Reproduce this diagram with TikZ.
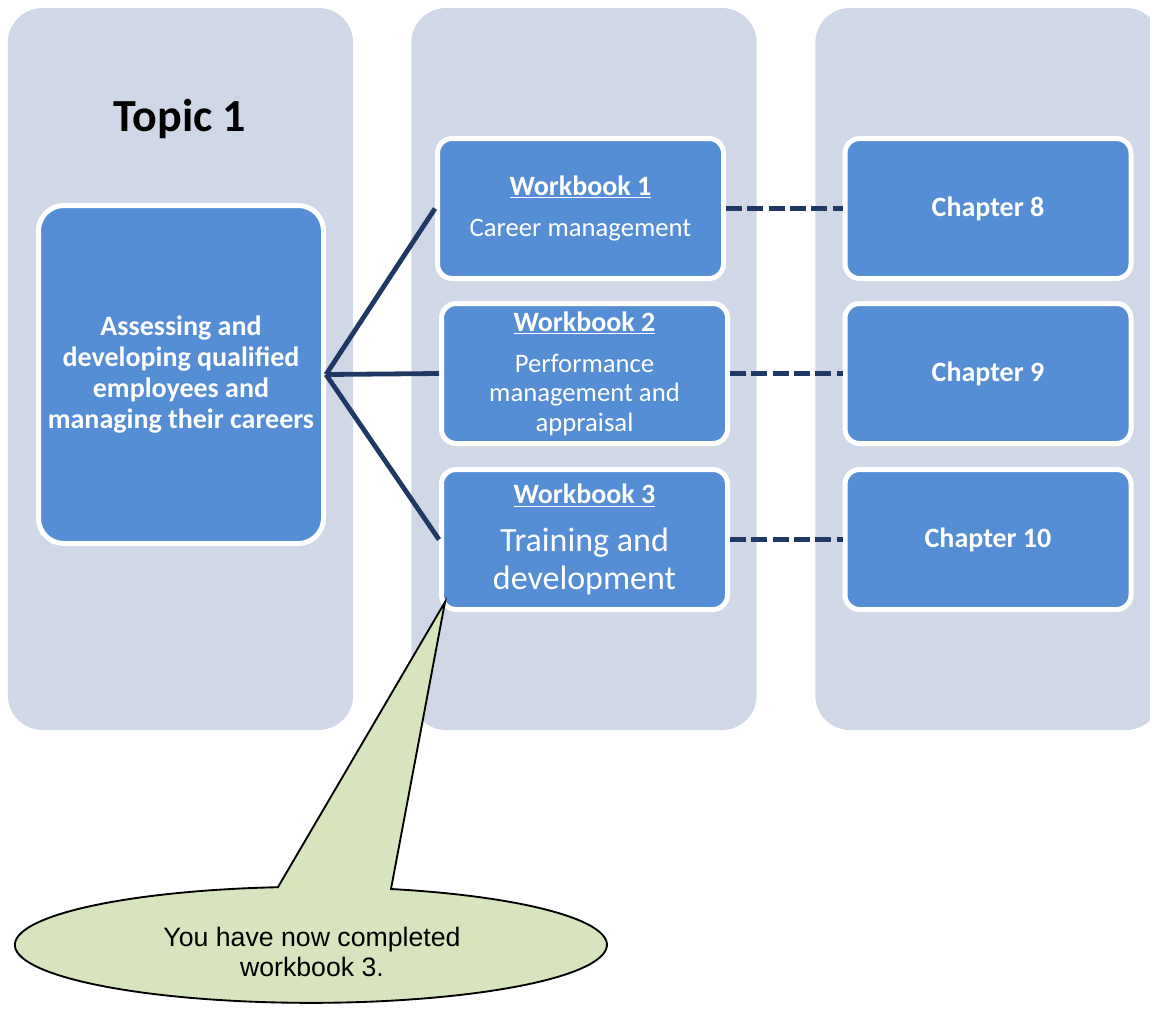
\documentclass[tikz,border=0pt]{standalone}
\usepackage{fontspec}
\setmainfont{Carlito}
\newfontfamily\calloutfont{Liberation Sans}
\usepackage{tikz}
\usetikzlibrary{positioning}

\definecolor{colbg}{HTML}{D0D8E8}
\definecolor{boxblue}{HTML}{558ED5}
\definecolor{navy}{HTML}{1F3864}
\definecolor{calloutgreen}{HTML}{D7E4BD}

\begin{document}
\begin{tikzpicture}[x=0.75pt,y=-0.75pt,
  column/.style={rectangle,rounded corners=26pt,fill=colbg,inner sep=0pt,
    minimum width=259pt,minimum height=541.5pt},
  bluebox/.style={rectangle,rounded corners=11pt,draw=white,line width=3.75pt,
    fill=boxblue,text=white,align=center,inner sep=2pt,
    minimum width=214.5pt,minimum height=105pt},
  bodyfont/.style={font=\fontsize{20}{22}\selectfont},
  link/.style={draw=navy,line width=3.6pt},
  every text node part/.style={align=center}]
  \useasboundingbox (0,0) rectangle (1150,1008);
  \clip (0,0) rectangle (1150,1008);

  % background columns
  \node[column] (col1) at (180.5,369) {};
  \node[column] (col2) at (584,369) {};
  \node[column] (col3) at (988,369) {};

  \node[font=\fontsize{34.5}{40}\selectfont\bfseries] (topic) at (180,118.5) {Topic 1};

  % topic box
  \node[bluebox,rounded corners=19pt,minimum width=213.75pt,minimum height=253.5pt,
    font=\fontsize{21}{23.25}\selectfont\bfseries] (main) at (181,374.5)
    {Assessing and\\developing qualified\\employees and\\managing their careers};

  % workbooks
  \node[bluebox,bodyfont] (wb1) at (580.5,208.5)
    {{\fontsize{21}{25}\selectfont\bfseries\underline{Workbook 1}}\\[9pt]Career management};
  \node[bluebox,bodyfont] (wb2) at (584.5,373.5)
    {{\fontsize{21}{25}\selectfont\bfseries\underline{Workbook 2}}\\[9pt]Performance\\management and\\appraisal};
  \node[bluebox,font=\fontsize{25.5}{28}\selectfont] (wb3) at (584.5,539.5)
    {{\fontsize{21}{25}\selectfont\bfseries\underline{Workbook 3}}\\[8pt]Training and\\development};

  % chapters
  \node[bluebox,font=\fontsize{21}{25}\selectfont\bfseries] (ch8) at (988,208.5) {Chapter 8};
  \node[bluebox,font=\fontsize{21}{25}\selectfont\bfseries] (ch9) at (988,373.5) {Chapter 9};
  \node[bluebox,font=\fontsize{21}{25}\selectfont\bfseries] (ch10) at (988,539.5) {Chapter 10};

  % connectors
  \draw[link] (main.east) -- (wb1.west);
  \draw[link] (main.east) -- (wb2.west);
  \draw[link] (main.east) -- (wb3.west);
  \draw[link,dash pattern=on 12pt off 4pt] (wb1.east) -- (ch8.west);
  \draw[link,dash pattern=on 12pt off 4pt] (wb2.east) -- (ch9.west);
  \draw[link,dash pattern=on 12pt off 4pt] (wb3.east) -- (ch10.west);

  % callout
  \coordinate (tip) at (445,602);
  \filldraw[fill=calloutgreen,draw=black,line width=1.4pt]
    (391,889) arc[start angle=74.3,end angle=-263.6,x radius=222pt,y radius=43.5pt]
    -- (tip) -- cycle;
  \node[font=\calloutfont\fontsize{20}{23}\selectfont] (note) at (312,952)
    {You have now completed\\workbook 3.};
\end{tikzpicture}
\end{document}
